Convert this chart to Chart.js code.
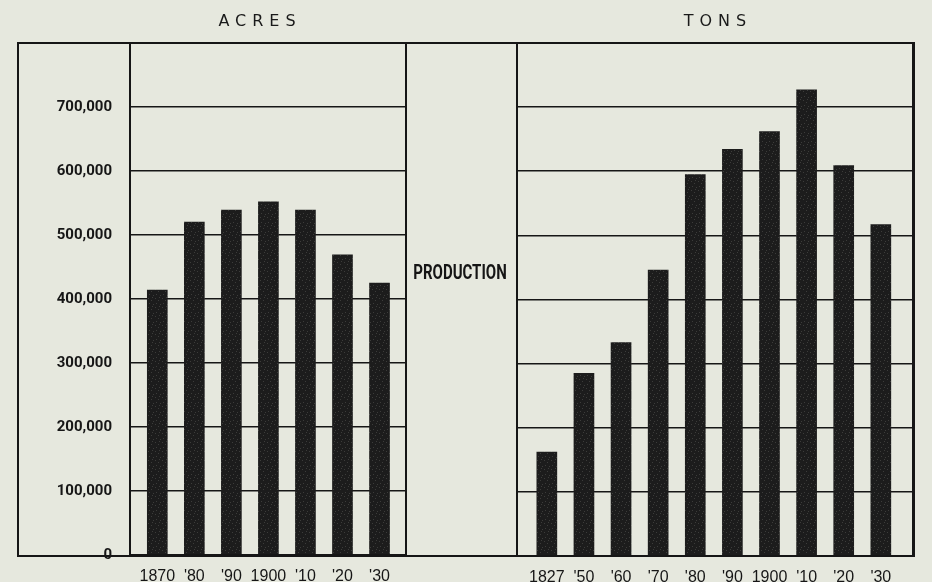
<!DOCTYPE html>
<html>
<head>
<meta charset="utf-8">
<script src="https://cdn.jsdelivr.net/npm/chart.js@4"></script>
<style>
  html, body { margin: 0; padding: 0; }
  body { width: 932px; height: 582px; background: #e6e8de; position: relative; overflow: hidden; }
  .frame { position: absolute; left: 17px; top: 42px; width: 898px; height: 515px; border: 2px solid #161616; box-sizing: border-box; }
  .cv { position: absolute; top: 0; width: 466px; height: 582px; }
  #acres_chart { left: 0; }
  #tons_chart { left: 466px; }
  .head { position: absolute; top: 11px; font: 16px "DejaVu Sans", sans-serif; letter-spacing: 6px; color: #1a1a1a; transform: translateX(-50%); padding-left: 6px; }
  .mid { position: absolute; left: 460px; top: 260px; font: bold 20px Roboto, sans-serif; color: #151515; transform: translateX(-50%) scaleX(0.75); white-space: nowrap; }
</style>
</head>
<body>
<div class="frame"></div>
<canvas id="acres_chart" class="cv" width="466" height="582"></canvas>
<canvas id="tons_chart" class="cv" width="466" height="582"></canvas>
<div class="head" style="left:257px">ACRES</div>
<div class="head" style="left:715px">TONS</div>
<div class="mid">PRODUCTION</div>
<script>
// 면적 (acres)
const acreYears = ['1870', "'80", "'90", '1900', "'10", "'20", "'30"];
const acreValues = [414000, 520000, 539000, 552000, 539000, 469000, 425000];

// 생산량 (tons)
const tonYears = ['1827', "'50", "'60", "'70", "'80", "'90", '1900', "'10", "'20", "'30"];
const tonValues = [162000, 285000, 333000, 446000, 595000, 634000, 662000, 727000, 609000, 517000];

// y축 눈금
const yTicks = [0, 100000, 200000, 300000, 400000, 500000, 600000, 700000];

const ink = '#161616';

// 막대 질감 (인쇄 느낌)
function barPattern() {
	const tile = document.createElement('canvas');
	tile.width = 7; tile.height = 9;
	const t = tile.getContext('2d');
	t.fillStyle = '#1c1c1c';
	t.fillRect(0, 0, 7, 9);
	t.fillStyle = '#3c3c3a';
	[[1, 1], [4, 3], [2, 6], [6, 7], [5, 0]].forEach(p => t.fillRect(p[0], p[1], 1, 1));
	return t.createPattern(tile, 'repeat');
}

// 플롯 테두리
const framePlugin = {
	id: 'framePlugin',
	afterDraw(chart) {
		const a = chart.chartArea;
		const c = chart.ctx;
		c.save();
		c.strokeStyle = ink;
		c.lineWidth = 2;
		c.strokeRect(a.left, a.top, a.right - a.left, a.bottom - a.top);
		c.restore();
	}
};

function makeBars(id, years, values, opt) {
	const ctx = document.getElementById(id).getContext('2d');
	return new Chart(ctx, {
		type: 'bar',
		plugins: [framePlugin],
		data: {
			datasets: [{
				data: values.map((v, i) => ({ x: i, y: v })),
				backgroundColor: barPattern(),
				borderWidth: 0,
				barThickness: 20,
			}]
		},
		options: {
			responsive: false,
			animation: false,
			layout: { padding: opt.padding },
			scales: {
				x: {
					type: 'linear',
					offset: false,
					min: opt.xmin,
					max: opt.xmax,
					grid: { display: false },
					border: { display: false },
					afterFit: (s) => { s.height = 26; },
					ticks: {
						stepSize: 1,
						includeBounds: false,
						autoSkip: false,
						maxRotation: 0,
						padding: 4,
						color: ink,
						font: { family: "'Liberation Sans', sans-serif", size: 16 },
						callback: (v) => Number.isInteger(v) && years[v] !== undefined ? years[v] : ''
					}
				},
				y: {
					min: 0,
					max: 800000,
					afterFit: (s) => { s.width = opt.yWidth; },
					grid: { color: ink, lineWidth: 1.6, drawTicks: false },
					border: { display: false },
					ticks: {
						display: opt.showY,
						stepSize: 100000,
						padding: 18,
						color: ink,
						font: { family: "Roboto, sans-serif", size: 15, weight: 'bold' },
						callback: (v) => yTicks.includes(v) ? v.toLocaleString('en-US') : ''
					}
				}
			},
			plugins: {
				legend: { display: false },
				tooltip: { enabled: false },
			}
		}
	});
}

makeBars('acres_chart', acreYears, acreValues, {
	padding: { left: 18, right: 60, top: 43, bottom: 0 },
	yWidth: 112,
	showY: true,
	xmin: -0.737,
	xmax: 6.715
});

makeBars('tons_chart', tonYears, tonValues, {
	padding: { left: 51, right: 19, top: 43, bottom: 0 },
	yWidth: 0,
	showY: false,
	xmin: -0.804,
	xmax: 9.867
});
</script>
</body>
</html>
